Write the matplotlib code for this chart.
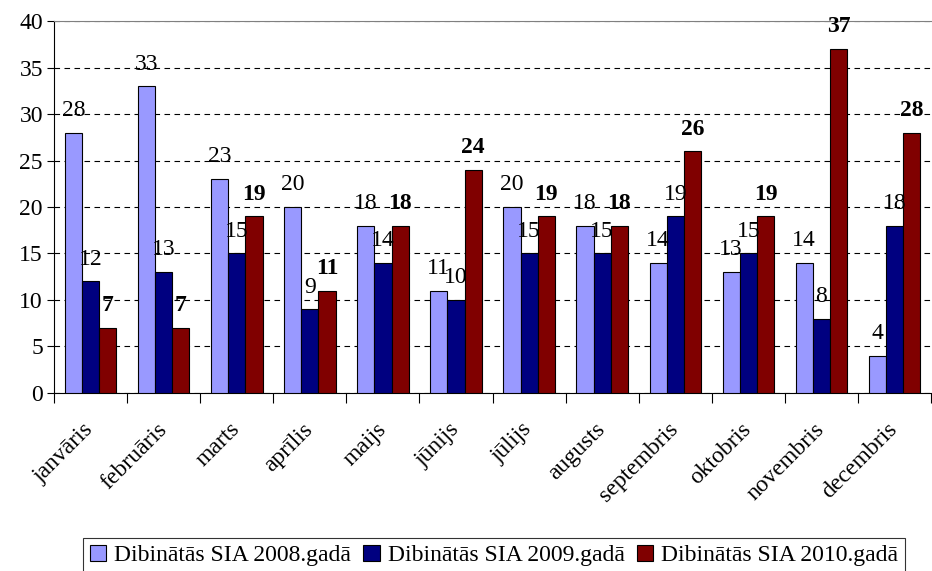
import numpy as np
import matplotlib.pyplot as plt

months = ['janvāris', 'februāris', 'marts', 'aprīlis', 'maijs', 'jūnijs',
          'jūlijs', 'augusts', 'septembris', 'oktobris', 'novembris', 'decembris']
sia_2008 = [28, 33, 23, 20, 18, 11, 20, 18, 14, 13, 14, 4]
sia_2009 = [12, 13, 15, 9, 14, 10, 15, 15, 19, 15, 8, 18]
sia_2010 = [7, 7, 19, 11, 18, 24, 19, 18, 26, 19, 37, 28]
labels = ['Dibinātās SIA 2008.gadā', 'Dibinātās SIA 2009.gadā', 'Dibinātās SIA 2010.gadā']
colors = ['#9999FF', '#000080', '#800000']

plt.rcParams['font.family'] = ['Liberation Serif', 'DejaVu Serif']
fs = 17

fig = plt.figure(figsize=(9.32, 5.71), dpi=100)
ax = fig.add_axes([0.058, 0.312, 0.941, 0.651])

x = np.arange(len(months))
w = 0.235
series = [sia_2008, sia_2009, sia_2010]
for i, (vals, col, lab) in enumerate(zip(series, colors, labels)):
    pos = x + (i - 1) * w
    ax.bar(pos, vals, w, color=col, edgecolor='black', linewidth=0.8, label=lab, zorder=3)
    for px, v in zip(pos, vals):
        ax.annotate(str(v), (px, v), xytext=(0, 12), textcoords='offset points',
                    ha='center', va='baseline', fontsize=fs,
                    fontweight='bold' if i == 2 else 'normal', zorder=4)

ax.set_xlim(-0.5, len(months) - 0.5)
ax.set_ylim(0, 40)
ax.set_yticks(range(0, 41, 5))
ax.tick_params(axis='y', labelsize=fs, length=5, direction='out', pad=3)
ax.yaxis.grid(True, linestyle=(0, (5, 4)), color='black', linewidth=0.8, zorder=0)

ax.set_xticks(np.arange(-0.5, len(months), 1), minor=False)
ax.set_xticklabels([])
ax.set_xticks(x, minor=True)
ax.set_xticklabels(months, minor=True, rotation=45, ha='right', va='center',
                   rotation_mode='anchor', fontsize=fs)
ax.tick_params(axis='x', which='major', length=7, direction='out')
ax.tick_params(axis='x', which='minor', length=0, pad=24)

ax.spines['right'].set_visible(False)
ax.spines['top'].set_color('#808080')
ax.spines['left'].set_color('black')
ax.spines['bottom'].set_color('black')

leg = fig.legend(loc='lower center', bbox_to_anchor=(0.53, -0.025), ncol=3, fontsize=fs,
                 frameon=True, fancybox=False, edgecolor='black', handlelength=0.7,
                 handleheight=0.7, handletextpad=0.35, columnspacing=0.5, borderpad=0.3)
leg.get_frame().set_linewidth(0.8)

fig.savefig('out.png', dpi=100)
